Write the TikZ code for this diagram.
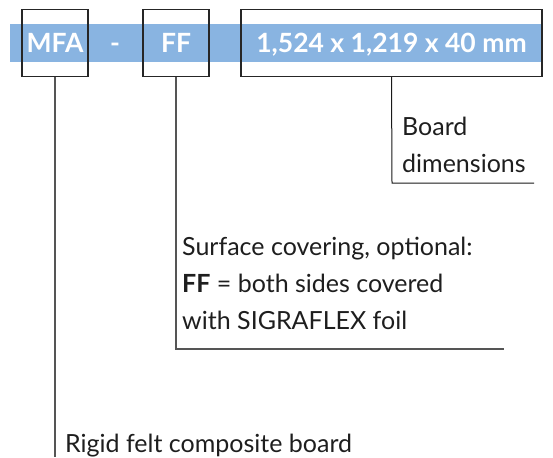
\documentclass[tikz,border=0pt]{standalone}
\usepackage{fontspec}
\setmainfont{Lato}
\usetikzlibrary{positioning}
\definecolor{bandblue}{HTML}{89B4E1}
\definecolor{linegray}{HTML}{555555}
\definecolor{textgray}{HTML}{1E1E1E}
\tikzset{
	codebox/.style={
		rectangle,
		draw=black!85, line width=1.3pt,
		minimum height=67pt,
		inner sep=0pt,
		text height=19pt, text depth=0pt,
		text=white,
		font=\fontsize{26.5}{26.5}\selectfont\bfseries,
		text centered,
	},
	codetext/.style={
		inner sep=0pt,
		text height=19pt, text depth=0pt,
		text=white,
		font=\fontsize{26.5}{26.5}\selectfont\bfseries,
	},
	notetext/.style={
		anchor=north west,
		inner sep=0pt,
		align=left,
		text=textgray,
		font=\fontsize{25}{37}\selectfont,
	},
	lead/.style={draw=linegray, line width=1.5pt},
	thinlead/.style={draw=black!90, line width=1pt},
}

\begin{document}
\begin{tikzpicture}[x=1pt, y=1pt]
\useasboundingbox (0,0) rectangle (553,-457);
\fill[bandblue] (9.5,-24) rectangle (543,-62);

\node	(mfa)	[codebox, minimum width=66pt]	at (55,-43)	{MFA};
\node	(dash)	[codetext]	at (115,-43)	{-};
\node	(ff)	[codebox, minimum width=66pt]	at (176,-43)	{FF};
\node	(dims)	[codebox, minimum width=301pt]	at (391.5,-43)	{1,524 x 1,219 x 40 mm};

\node	(dimslabel)	[notetext]	at (402,-117)	{Board\\dimensions};
\node	(fflabel)	[notetext]	at (182,-237)	{Surface covering, optional:\\\textbf{FF} = both sides covered\\with SIGRAFLEX foil};
\node	(mfalabel)	[notetext]	at (65,-434)	{Rigid felt composite board};

\coordinate (dimscorner) at (392,-183);
\coordinate (dimsend) at (534,-183);
\coordinate (ffcorner) at (176,-349);
\coordinate (ffend) at (504,-349);
\coordinate (mfaend) at (55,-457);

\draw[thinlead] (dims.south) -- (dimscorner) -- (dimsend);
\draw[lead] (ff.south) -- (ffcorner) -- (ffend);
\draw[lead] (mfa.south) -- (mfaend);

\end{tikzpicture}
\end{document}
